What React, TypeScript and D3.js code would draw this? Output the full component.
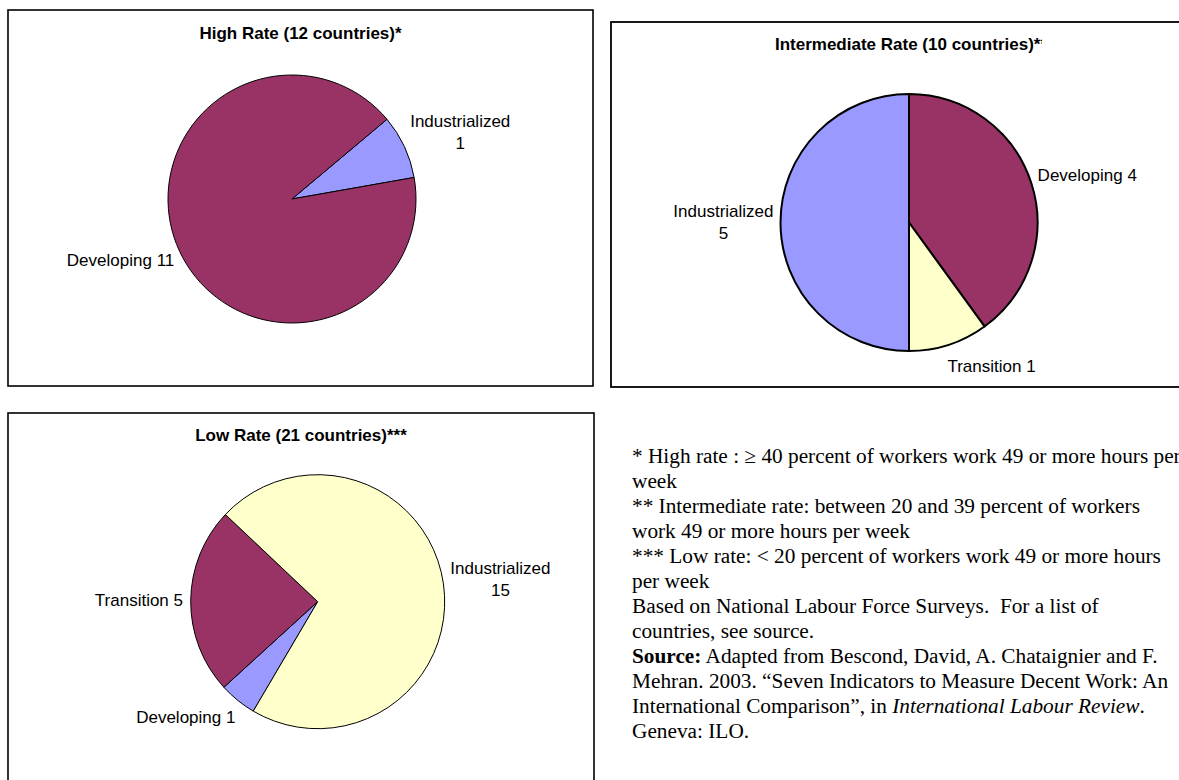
import React, { useEffect, useRef } from "react";
import * as d3 from "d3";

// ---- Data ----
// Slice colours follow each chart's point order (Excel default palette)
const pointColors = ["#9999FF", "#993366", "#FFFFCC"];
const highRateCategories = ["Industrialized", "Developing"];
const highRateValues = [1, 11];
const intermediateRateCategories = ["Industrialized", "Developing", "Transition"];
const intermediateRateValues = [5, 4, 1];
const lowRateCategories = ["Developing", "Transition", "Industrialized"];
const lowRateValues = [1, 5, 15];
const chartTitles = [
  "High Rate (12 countries)*",
  "Intermediate Rate (10 countries)**",
  "Low Rate (21 countries)***",
];
// categories whose label wraps value onto a second line
const wrappedCategories = ["Industrialized"];

type Seg = { t: string; b?: boolean; i?: boolean };
const noteLines: Seg[][] = [
  [{ t: "* High rate : \u2265 40 percent of workers work 49 or more hours per" }],
  [{ t: "week" }],
  [{ t: "** Intermediate rate: between 20 and 39 percent of workers" }],
  [{ t: "work 49 or more hours per week" }],
  [{ t: "*** Low rate: < 20 percent of workers work 49 or more hours" }],
  [{ t: "per week" }],
  [{ t: "Based on National Labour Force Surveys.\u00a0 For a list of" }],
  [{ t: "countries, see source." }],
  [{ t: "Source:", b: true }, { t: " Adapted from Bescond, David, A. Chataignier and F." }],
  [{ t: "Mehran. 2003. \u201cSeven Indicators to Measure Decent Work: An" }],
  [{ t: "International Comparison\u201d, in " }, { t: "International Labour Review", i: true }, { t: "." }],
  [{ t: "Geneva: ILO." }],
];

// ---- Layout ----
const W = 1179;
const H = 780;
const panels = [
  { cats: highRateCategories, values: highRateValues, title: chartTitles[0], box: [8, 10, 585, 376], boxStroke: 1.6, titleY: 39, cx: 292, cy: 199, r: 124, start: 50, pieStroke: 1, clipRight: null as number | null },
  { cats: intermediateRateCategories, values: intermediateRateValues, title: chartTitles[1], box: [611, 22, 600, 365], boxStroke: 1.8, titleY: 49.5, cx: 909, cy: 222.5, r: 128.5, start: 180, pieStroke: 2, clipRight: 1042 },
  { cats: lowRateCategories, values: lowRateValues, title: chartTitles[2], box: [8, 413, 586, 400], boxStroke: 1.6, titleY: 441, cx: 317.7, cy: 601.7, r: 127, start: 210.5, pieStroke: 1, clipRight: null },
];
const sansFont = "'Liberation Sans', Arial, sans-serif";
const serifFont = "'Liberation Serif', 'Times New Roman', serif";
const labelSize = 17;
const labelLineGap = 22;
const labelGap = 13;
const notesX = 632;
const notesY0 = 463;
const notesLineH = 25;
const notesSize = 21.3;

export default function App() {
  const ref = useRef<SVGSVGElement | null>(null);

  useEffect(() => {
    const svg = d3.select(ref.current!);
    svg.selectAll("*").remove();
    svg.append("rect").attr("x", 0).attr("y", 0).attr("width", W).attr("height", H).attr("fill", "#fff");
    const defs = svg.append("defs");

    panels.forEach((p, pi) => {
      const g = svg.append("g");
      const [bx, by, bw, bh] = p.box;
      g.append("rect")
        .attr("x", bx).attr("y", by).attr("width", bw).attr("height", bh)
        .attr("fill", "#fff").attr("stroke", "#000").attr("stroke-width", p.boxStroke);

      const title = g.append("text")
        .attr("x", bx + bw / 2).attr("y", p.titleY)
        .attr("text-anchor", "middle")
        .attr("font-family", sansFont).attr("font-weight", "bold").attr("font-size", 17)
        .attr("fill", "#000")
        .text(p.title);
      if (p.clipRight != null) {
        const id = `titleclip${pi}`;
        defs.append("clipPath").attr("id", id)
          .append("rect").attr("x", bx).attr("y", by).attr("width", p.clipRight - bx).attr("height", 60);
        title.attr("clip-path", `url(#${id})`);
      }

      const a0 = (p.start * Math.PI) / 180;
      const pie = d3.pie<number>().sort(null).value((d) => d).startAngle(a0).endAngle(a0 + 2 * Math.PI);
      const arcs = pie(p.values);
      const arcGen = d3.arc<d3.PieArcDatum<number>>().innerRadius(0).outerRadius(p.r);
      const pg = g.append("g").attr("transform", `translate(${p.cx},${p.cy})`);
      arcs.filter((a) => a.data > 0).forEach((a) => {
        pg.append("path")
          .attr("d", arcGen(a) as string)
          .attr("fill", pointColors[a.index])
          .attr("stroke", "#000")
          .attr("stroke-width", p.pieStroke)
          .attr("stroke-linejoin", "round");
      });

      arcs.filter((a) => a.data > 0).forEach((a) => {
        const name = p.cats[a.index];
        const lines = wrappedCategories.includes(name) ? [name, String(a.data)] : [`${name} ${a.data}`];
        const m = (a.startAngle + a.endAngle) / 2;
        const s = Math.sin(m);
        const c = Math.cos(m);
        const t = g.append("text")
          .attr("text-anchor", "middle")
          .attr("font-family", sansFont).attr("font-size", labelSize).attr("fill", "#000");
        lines.forEach((ln, li) => {
          t.append("tspan").attr("x", 0).attr("dy", li === 0 ? 0 : labelLineGap).text(ln);
        });
        const bb = (t.node() as SVGTextElement).getBBox();
        const w = bb.width;
        const h = bb.height;
        const sign = Math.abs(s) < 1e-6 ? 0 : Math.sign(s);
        const tx = p.cx + (p.r + labelGap) * s + sign * 0.88 * (w / 2);
        const ty = p.cy - (p.r + labelGap) * c - c * (h / 2);
        const dx = tx - (bb.x + bb.width / 2);
        const dy = ty - (bb.y + bb.height / 2);
        t.attr("transform", `translate(${dx},${dy})`);
      });
    });

    const notes = svg.append("g").attr("font-family", serifFont).attr("font-size", notesSize).attr("fill", "#000");
    noteLines.forEach((segs, i) => {
      const t = notes.append("text").attr("x", notesX).attr("y", notesY0 + i * notesLineH).attr("xml:space", "preserve");
      segs.forEach((sg) => {
        t.append("tspan")
          .attr("font-weight", sg.b ? "bold" : null)
          .attr("font-style", sg.i ? "italic" : null)
          .text(sg.t);
      });
    });
  }, []);

  return (
    <svg
      ref={ref}
      width={W}
      height={H}
      style={{ position: "absolute", left: 0, top: 0, display: "block" }}
    />
  );
}
